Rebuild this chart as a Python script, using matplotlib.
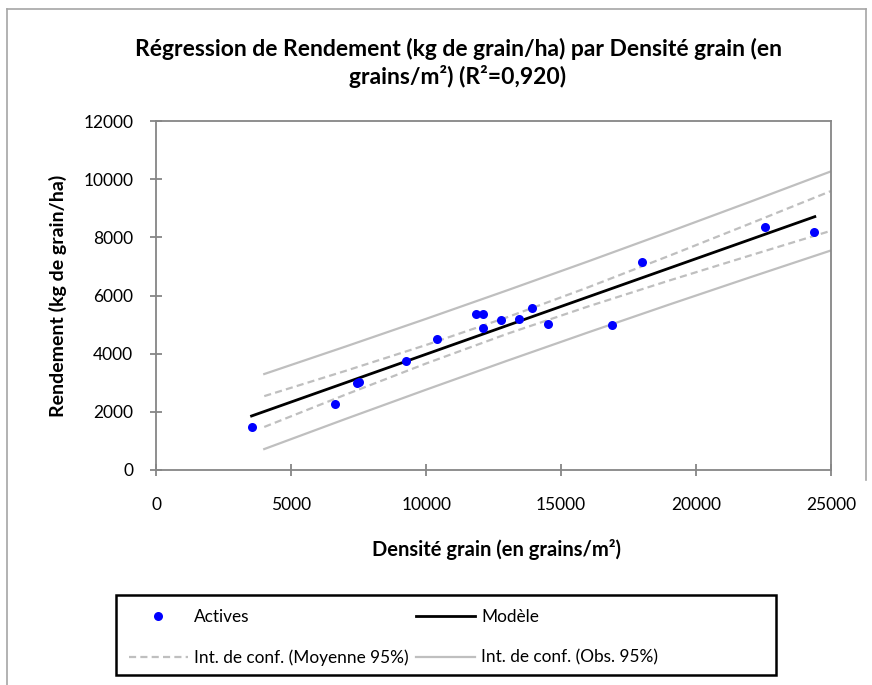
import matplotlib
matplotlib.use("Agg")
import matplotlib.pyplot as plt
from matplotlib.lines import Line2D
from matplotlib.patches import Rectangle

plt.rcParams['font.family'] = ['Lato', 'DejaVu Sans']

densite = [3530, 6620, 7420, 7520, 9270, 10410, 11840, 12110, 12090,
           12760, 13440, 13930, 14520, 16890, 18000, 22570, 24370]
rendement = [1470, 2270, 2980, 3010, 3760, 4490, 5380, 5370, 4870,
             5170, 5190, 5580, 5020, 4990, 7140, 8360, 8170]

# droite du modèle (extrémités)
modele_x = [3530, 24400]
modele_y = [1857, 8711]

# intervalles de confiance
ic_x = [4000, 7000, 10000, 13000, 16000, 19000, 22000, 25000]
ic_moy_haut = [2540, 3405, 4299, 5252, 6281, 7363, 8471, 9592]
ic_moy_bas = [1480, 2587, 3663, 4682, 5623, 6513, 7375, 8226]
ic_obs_haut = [3300, 4241, 5199, 6177, 7173, 8189, 9221, 10269]
ic_obs_bas = [720, 1751, 2763, 3757, 4731, 5687, 6625, 7549]

W, H = 872, 685
fig = plt.figure(figsize=(W / 100, H / 100), dpi=100)

def fx(px):
    return px / W

def fy(py):
    return 1 - py / H

ax = fig.add_axes([fx(156.3), fy(470), fx(831) - fx(156.3), fy(121) - fy(470)])

gris = '#BFBFBF'
ax.plot(ic_x, ic_obs_haut, color=gris, lw=1.6, zorder=2)
ax.plot(ic_x, ic_obs_bas, color=gris, lw=1.6, zorder=2)
ax.plot(ic_x, ic_moy_haut, color=gris, lw=1.6, dashes=(3.2, 1.9), zorder=2)
ax.plot(ic_x, ic_moy_bas, color=gris, lw=1.6, dashes=(3.2, 1.9), zorder=2)
ax.plot(modele_x, modele_y, color='black', lw=2.0, zorder=3)
ax.plot(densite, rendement, 'o', color='#0000FF', ms=6.5, mec='none', zorder=4)

ax.set_xlim(0, 25000)
ax.set_ylim(0, 12000)
ax.set_xticks(range(0, 25001, 5000))
ax.set_yticks(range(0, 12001, 2000))
for s in ax.spines.values():
    s.set_color('#868686')
    s.set_linewidth(1.3)
ax.tick_params(direction='inout', length=8, width=1.3, color='#868686',
               labelsize=12.5, labelcolor='black')
ax.tick_params(axis='y', pad=12.5)
ax.tick_params(axis='x', pad=15.5)

fig.text(fx(458), fy(63),
         "Régression de Rendement (kg de grain/ha) par Densité grain (en\ngrains/m²) (R²=0,920)",
         ha='center', va='center', fontsize=16.5, fontweight='bold', linespacing=1.22)
fig.text(fx(496), fy(550), "Densité grain (en grains/m²)", ha='center', va='center',
         fontsize=14.5, fontweight='bold')
fig.text(fx(58), fy(296), "Rendement (kg de grain/ha)", ha='center', va='center',
         rotation=90, fontsize=14, fontweight='bold')

# cadre du graphique
fig.add_artist(Line2D([fx(7), fx(866)], [fy(9), fy(9)], color='#A6A6A6', lw=1.2))
fig.add_artist(Line2D([fx(7), fx(7)], [fy(9), fy(685)], color='#A6A6A6', lw=1.2))
fig.add_artist(Line2D([fx(866), fx(866)], [fy(9), fy(480)], color='#A6A6A6', lw=1.2))

# légende
fig.add_artist(Rectangle((fx(116), fy(675)), fx(776) - fx(116), fy(595) - fy(675),
                         fill=False, ec='black', lw=1.8))
handles = [
    Line2D([], [], ls='none', marker='o', color='#0000FF', ms=6.5, mec='none'),
    Line2D([], [], color=gris, lw=1.6, dashes=(3.2, 1.9)),
    Line2D([], [], color='black', lw=2.0),
    Line2D([], [], color=gris, lw=1.6),
]
labels = ["Actives", "Int. de conf. (Moyenne 95%)", "Modèle", "Int. de conf. (Obs. 95%)"]
fig.legend(handles, labels, ncol=2, loc='upper left',
           bbox_to_anchor=(fx(129), fy(609)), frameon=False, fontsize=12.4,
           borderpad=0, borderaxespad=0, handlelength=3.4, handletextpad=0.36,
           columnspacing=0.45, labelspacing=1.43)

fig.savefig("out.png", dpi=100)
